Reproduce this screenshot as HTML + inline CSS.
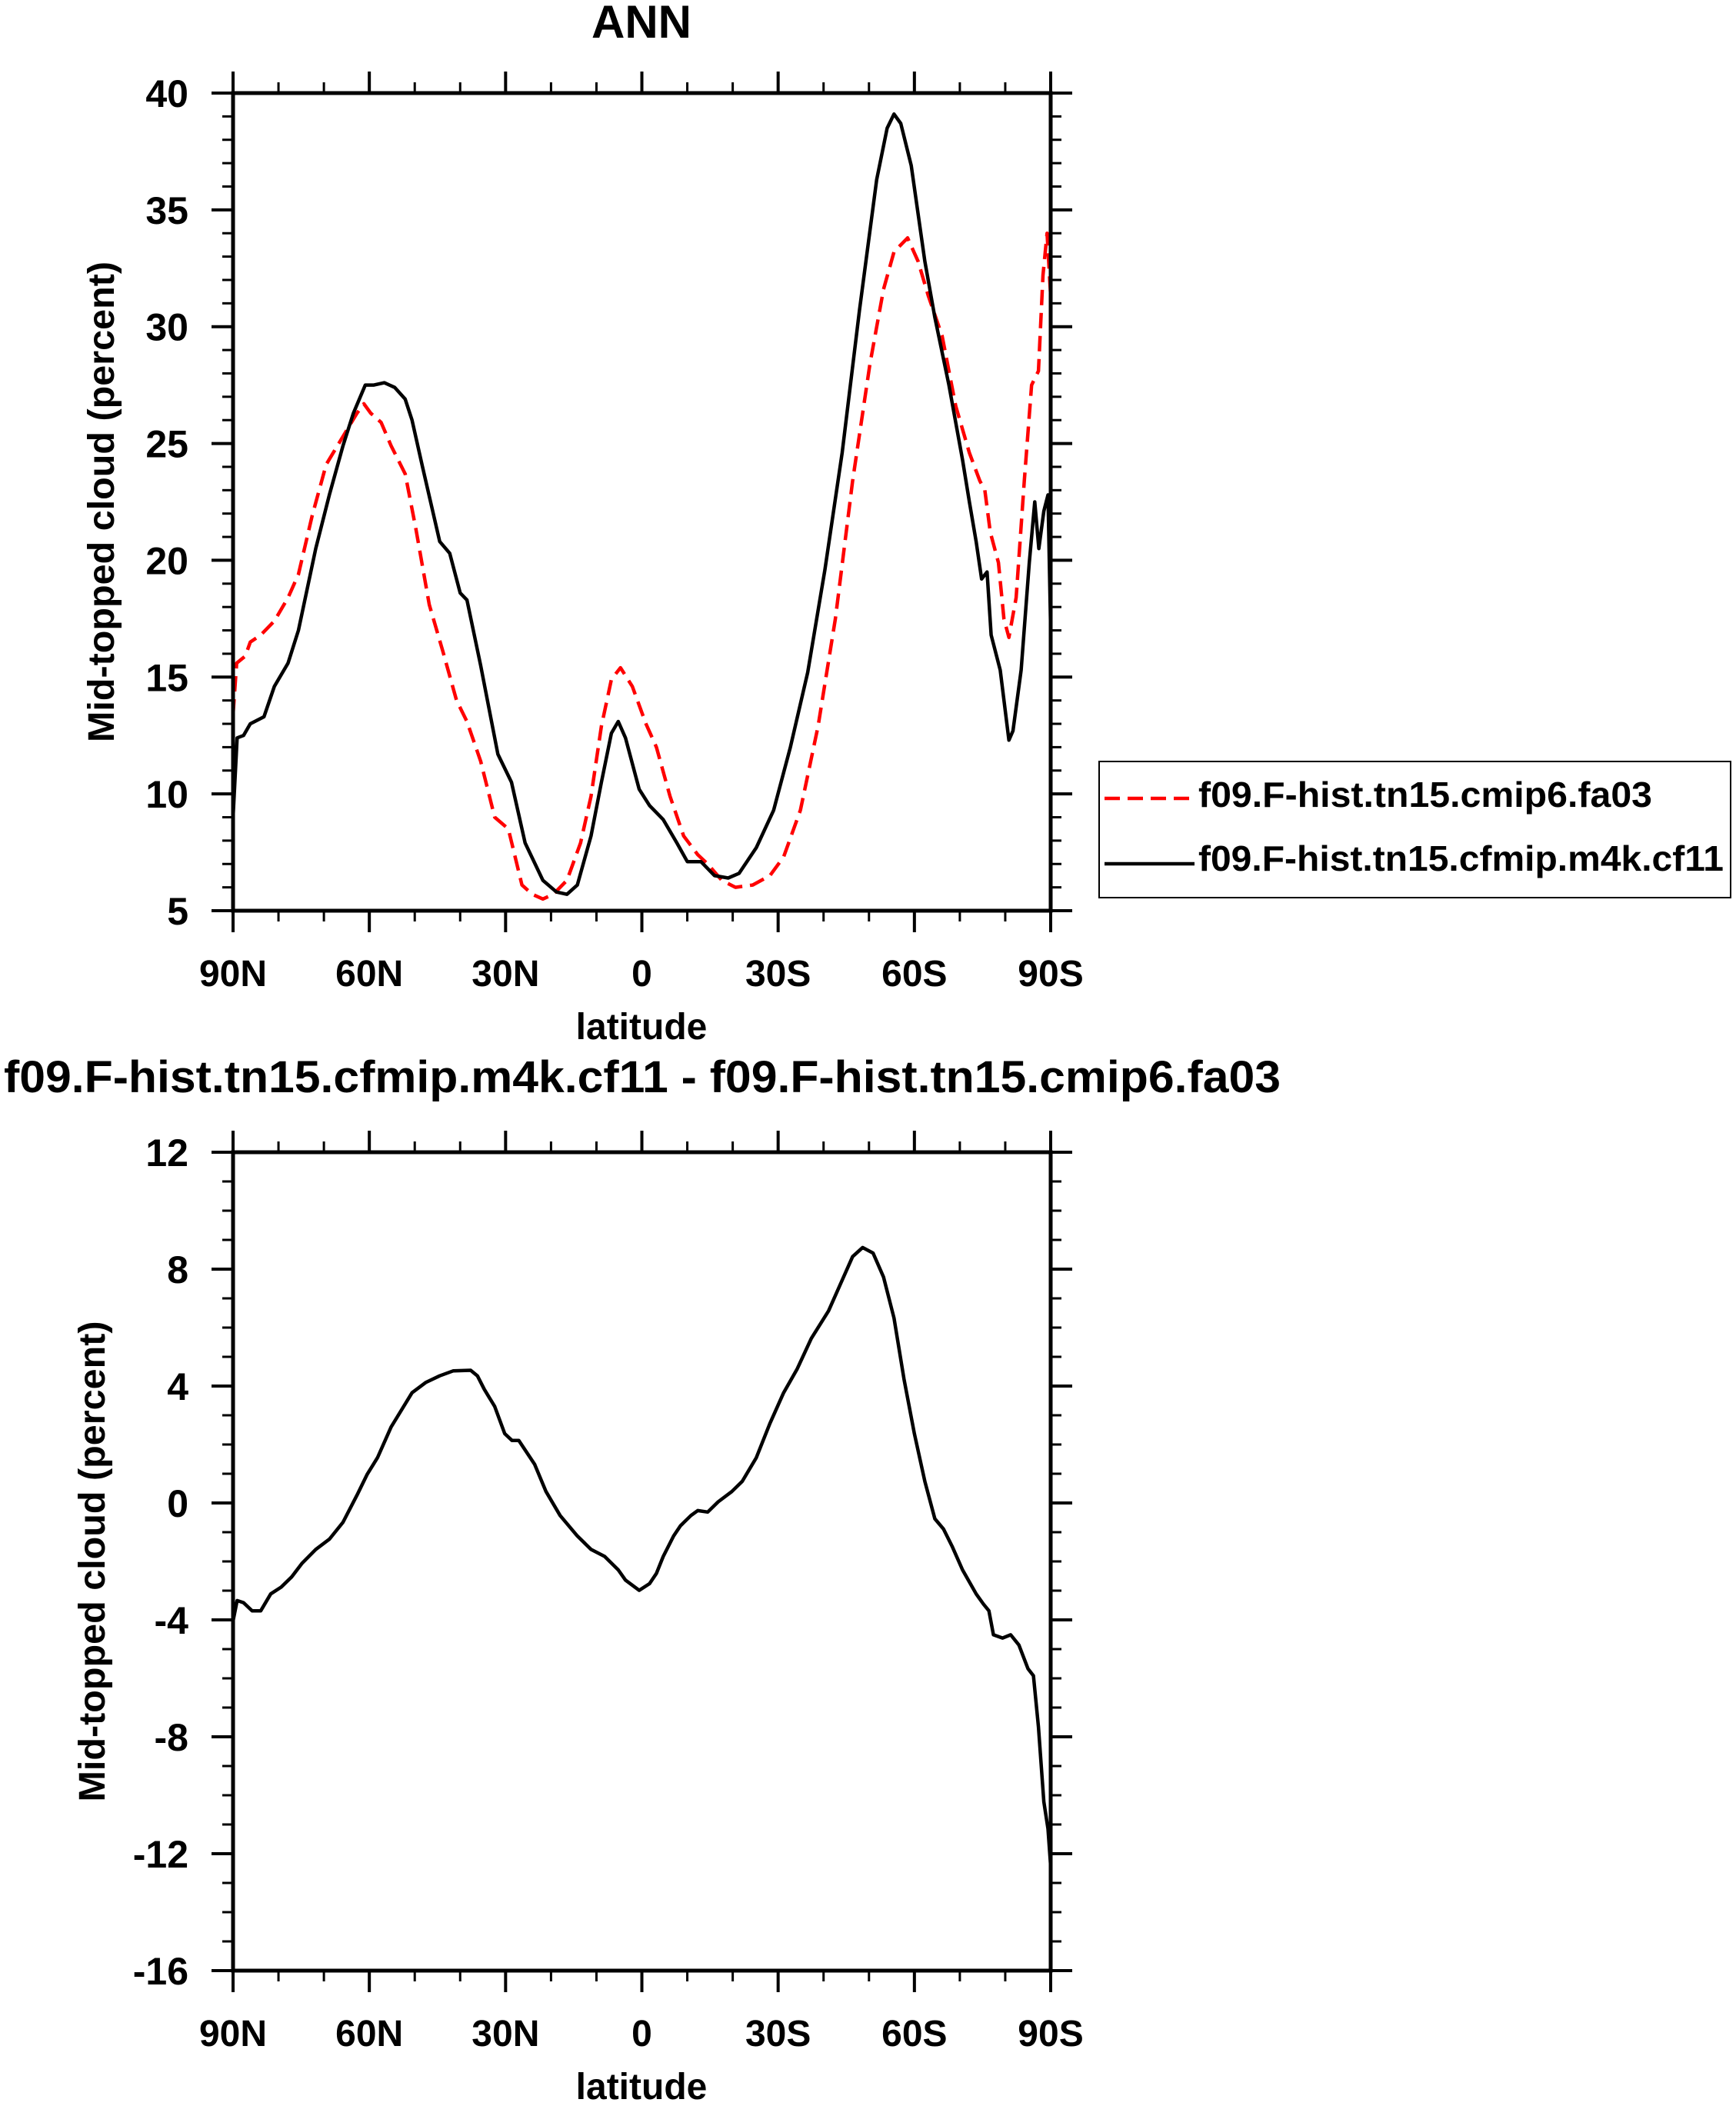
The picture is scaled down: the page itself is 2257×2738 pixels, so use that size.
<!DOCTYPE html>
<html><head><meta charset="utf-8">
<style>
html,body{margin:0;padding:0;background:#fff;}
svg{display:block;}
text{font-family:"Liberation Sans",Arial,sans-serif;font-weight:bold;fill:#000;}
</style></head>
<body>
<svg id="chart" width="2257" height="2738" viewBox="0 0 2257 2738" xmlns="http://www.w3.org/2000/svg">
<rect x="0" y="0" width="2257" height="2738" fill="#fff"/>
<g id="top"></g>
<g id="bot"></g>
<text x="834" y="49" font-size="60" text-anchor="middle">ANN</text>
<text x="5" y="1420" font-size="58" textLength="1660" lengthAdjust="spacingAndGlyphs">f09.F-hist.tn15.cfmip.m4k.cf11 - f09.F-hist.tn15.cmip6.fa03</text>
<g>
<rect x="1429" y="990" width="821" height="177" fill="none" stroke="#000" stroke-width="2"/>
<line x1="1436" y1="1038" x2="1553" y2="1038" stroke="#ff0000" stroke-width="4.5" stroke-dasharray="20,10"/>
<text x="1558" y="1049" font-size="46" textLength="590" lengthAdjust="spacingAndGlyphs">f09.F-hist.tn15.cmip6.fa03</text>
<line x1="1436" y1="1123" x2="1553" y2="1123" stroke="#000" stroke-width="4.5"/>
<text x="1558" y="1132" font-size="46" textLength="683" lengthAdjust="spacingAndGlyphs">f09.F-hist.tn15.cfmip.m4k.cf11</text>
</g>
</svg>
<script>
// shared x-axis
const xTickVals = [90, 60, 30, 0, -30, -60, -90];
const xTickLabels = ["90N", "60N", "30N", "0", "30S", "60S", "90S"];
// top panel
const topYTicks = [5, 10, 15, 20, 25, 30, 35, 40];
const m4kLat = [90,89.1,87.7,86.2,83.2,80.9,77.9,75.6,71.8,68.8,65.8,63.5,60.9,59,56.7,54.4,52.1,50.6,48.3,44.5,42.3,40,38.5,35.5,31.7,28.7,25.7,21.8,18.8,16.5,14.2,11.2,8.9,6.7,5.2,3.6,0.6,-1.7,-4.7,-7.7,-10,-13,-16,-19,-21.4,-25.2,-29,-32.7,-36.5,-40.3,-44.1,-47.9,-51.7,-54,-55.5,-57,-59.3,-62.3,-64.5,-67.6,-70.6,-72.1,-73.6,-74.8,-76,-76.9,-78.9,-80.8,-81.7,-83.5,-85.3,-86.5,-87.4,-88.5,-89.4,-90];
const m4kVal = [9.0,12.4,12.5,13.0,13.3,14.6,15.6,17.0,20.5,22.8,24.9,26.3,27.5,27.5,27.6,27.4,26.9,26.0,24.0,20.8,20.3,18.6,18.3,15.5,11.7,10.5,7.9,6.3,5.8,5.7,6.1,8.2,10.5,12.6,13.1,12.4,10.2,9.5,8.9,7.9,7.1,7.1,6.5,6.4,6.6,7.7,9.3,12.0,15.2,19.6,24.6,30.7,36.3,38.5,39.1,38.7,36.9,32.8,30.4,27.5,24.3,22.5,20.8,19.2,19.5,16.8,15.3,12.3,12.7,15.3,19.9,22.5,20.5,22.1,22.8,17.0];
const cmipLat = [90,89.2,87.3,86.2,83.9,80.9,77.9,75.6,72.6,69.5,65.8,62.7,61.2,59.7,57.4,55.2,52.1,49.8,46.8,43.8,40.8,38.5,35.5,32.4,29.4,26.4,24.1,21.8,19.5,16.5,13.5,11.2,8.9,6.7,4.7,2.1,-0.9,-3.2,-6.2,-9.2,-12.3,-14.5,-17.6,-20.6,-24.4,-28.2,-31.2,-34.9,-38.8,-42.6,-46.4,-50.2,-53.2,-55.5,-58.5,-60.8,-63.1,-66.1,-69.1,-72.1,-74.4,-75.5,-76.7,-78.5,-79.7,-80.8,-82.4,-84.2,-85.8,-87.3,-88.3,-89.2,-90];
const cmipVal = [13.4,15.6,15.9,16.5,16.8,17.4,18.4,19.4,21.9,24.1,25.3,26.3,26.7,26.3,25.9,24.9,23.7,21.4,18.1,16.1,14.0,13.1,11.4,9.0,8.5,6.1,5.7,5.5,5.7,6.3,7.9,9.9,12.9,14.9,15.4,14.6,13.0,12.0,9.9,8.2,7.4,7.0,6.3,6.0,6.1,6.5,7.3,9.3,12.9,17.5,23.4,28.4,31.6,33.2,33.8,32.8,31.3,29.6,26.6,24.6,23.4,23.0,21.2,19.9,17.5,16.7,18.4,23.4,27.5,28.1,32.2,34.0,31.3];
// bottom panel
const botYTicks = [-16, -12, -8, -4, 0, 4, 8, 12];
const diffLat = [90,89.1,87.7,85.8,83.9,81.7,79.4,77.1,74.8,71.8,68.8,65.8,62.7,60.5,58.2,55.2,50.6,47.6,44.5,41.5,37.7,36.2,34.7,32.4,30.2,28.6,27.1,25.6,23.6,21.1,18,14.2,11.2,8.2,5.2,3.6,0.6,-1.7,-3.2,-4.7,-7,-8.5,-10.8,-12.3,-14.5,-16.8,-19.8,-22.1,-25.2,-28.2,-31.2,-34.2,-37.3,-41.1,-44.1,-46.4,-48.6,-50.9,-53.2,-55.5,-57.7,-60,-62.3,-64.5,-66.4,-68.3,-70.6,-73.6,-75.2,-76.4,-77.4,-79.4,-81.2,-83,-85,-86.2,-87.3,-88.5,-89.4,-90];
const diffVal = [-4.04,-3.34,-3.41,-3.69,-3.69,-3.11,-2.88,-2.53,-2.06,-1.59,-1.24,-0.66,0.27,0.97,1.55,2.6,3.77,4.12,4.35,4.52,4.54,4.35,3.89,3.3,2.37,2.14,2.14,1.79,1.32,0.39,-0.43,-1.13,-1.59,-1.83,-2.29,-2.64,-2.99,-2.76,-2.41,-1.83,-1.13,-0.78,-0.43,-0.26,-0.31,0.04,0.39,0.74,1.55,2.72,3.77,4.59,5.63,6.57,7.62,8.43,8.74,8.55,7.73,6.33,4.24,2.37,0.74,-0.54,-0.89,-1.48,-2.29,-3.11,-3.46,-3.69,-4.51,-4.62,-4.51,-4.86,-5.67,-5.91,-7.66,-10.22,-11.15,-12.43];

const NS = "http://www.w3.org/2000/svg";
function mk(tag, attrs, parent){const e=document.createElementNS(NS,tag);for(const k in attrs)e.setAttribute(k,attrs[k]);parent.appendChild(e);return e;}

function panel(g, top, bottom, yMin, yMax, yMajor, yTicks, yTitleX, series, prefix){
  const L=303, R=1366;
  const xs = lat => L + (90 - lat) / 180 * (R - L);
  const ys = v => bottom - (v - yMin) / (yMax - yMin) * (bottom - top);
  for(let lat=90; lat>=-90; lat-=10){
    const major = lat % 30 === 0;
    const len = major ? 28 : 14;
    const x = xs(lat);
    const t1 = mk("line",{x1:x,y1:bottom,x2:x,y2:bottom+len,stroke:"#000","stroke-width":major?4:3},g);
    
    
    const t2 = mk("line",{x1:x,y1:top,x2:x,y2:top-len,stroke:"#000","stroke-width":major?4:3},g);
    
    
  }
  for(let v=yMin; v<=yMax+1e-9; v+=1){
    const major = Math.abs(((v - yMin) % yMajor)) < 1e-9;
    const len = major ? 28 : 14;
    const y = ys(v);
    const t1 = mk("line",{x1:L,y1:y,x2:L-len,y2:y,stroke:"#000","stroke-width":major?4:3},g);
    
    
    const t2 = mk("line",{x1:R,y1:y,x2:R+len,y2:y,stroke:"#000","stroke-width":major?4:3},g);
    
    
  }
  yTicks.forEach(v=>{
    const t = mk("text",{x:245,y:ys(v)+18,"font-size":50,"text-anchor":"end"},g);
    t.textContent = String(v);
    
    
  });
  xTickVals.forEach((lat,i)=>{
    const t = mk("text",{x:xs(lat),y:bottom+98,"font-size":48,"text-anchor":"middle"},g);
    t.textContent = xTickLabels[i];
    
    
  });
  const xt = mk("text",{x:834,y:bottom+167,"font-size":48,"text-anchor":"middle"},g);
  xt.textContent = "latitude";
  
  
  const cy = (top+bottom)/2;
  const yt = mk("text",{x:yTitleX,y:cy,"font-size":48,"text-anchor":"middle",textLength:625,lengthAdjust:"spacingAndGlyphs",transform:`rotate(-90 ${yTitleX} ${cy})`},g);
  yt.textContent = "Mid-topped cloud (percent)";
  
  
  series.forEach(s=>{
    const d = s.lat.map((la,i)=>(i?"L":"M")+xs(la).toFixed(1)+","+ys(s.val[i]).toFixed(1)).join(" ");
    const p = mk("path",{d:d,fill:"none",stroke:s.color,"stroke-width":4.5,"stroke-linejoin":"round"},g);
    if(s.dash) p.setAttribute("stroke-dasharray", s.dash);
    
    
  });
  const frame = mk("rect",{x:L,y:top,width:R-L,height:bottom-top,fill:"none",stroke:"#000","stroke-width":5},g);
  
  
}

panel(document.getElementById("top"), 121, 1184, 5, 40, 5, topYTicks, 148, [
  {lat:cmipLat, val:cmipVal, color:"#ff0000", dash:"20,10", name:"series-cmip6-fa03"},
  {lat:m4kLat, val:m4kVal, color:"#000", name:"series-m4k-cf11"}
], "top");
panel(document.getElementById("bot"), 1498, 2562, -16, 12, 4, botYTicks, 136, [
  {lat:diffLat, val:diffVal, color:"#000", name:"series-difference"}
], "bottom");
</script>
</body></html>
